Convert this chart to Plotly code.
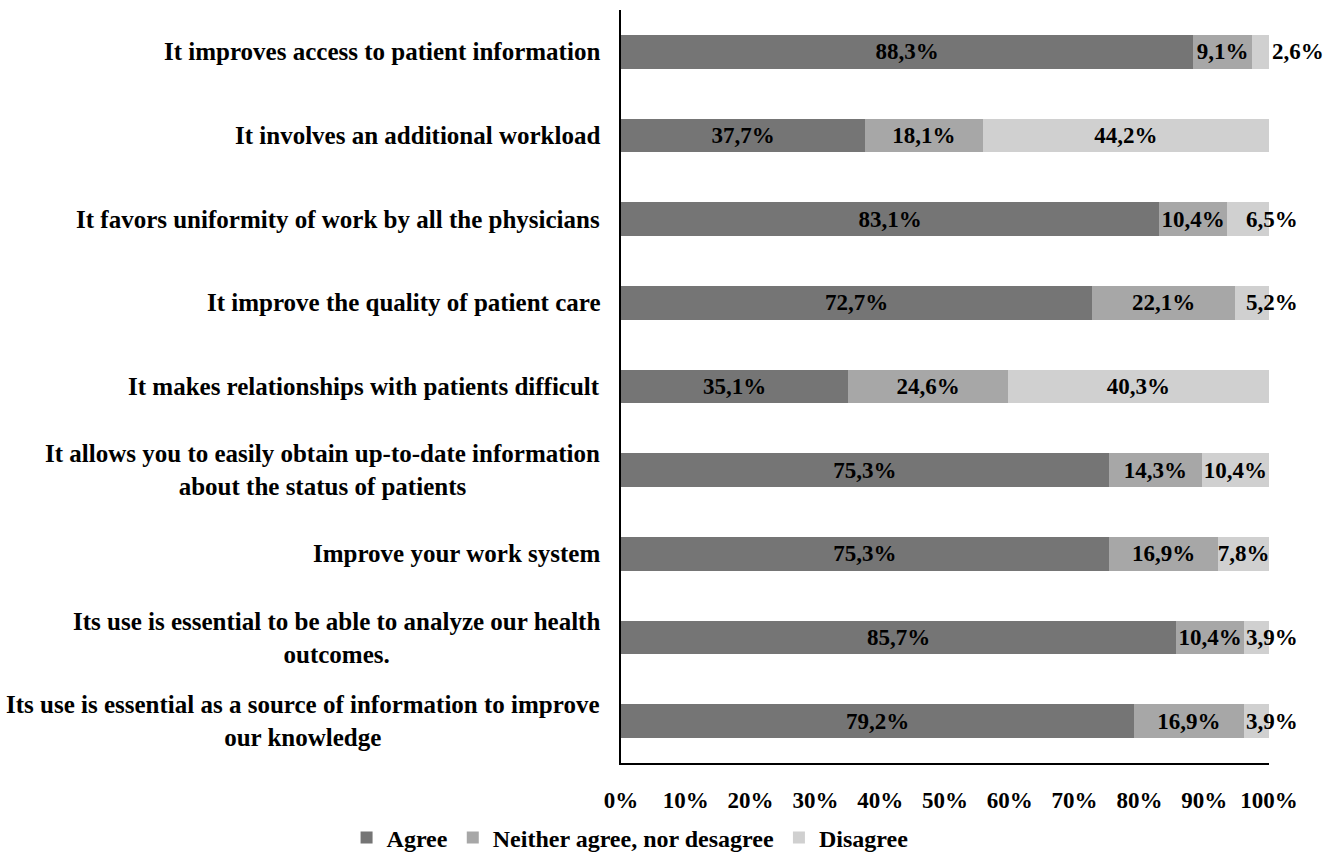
import plotly.graph_objects as go

# Survey statements (top to bottom)
categories = [
    "It improves access to patient information",
    "It involves an additional workload",
    "It favors uniformity of work by all the physicians",
    "It improve the quality of patient care",
    "It makes relationships with patients difficult",
    "It allows you to easily obtain up-to-date information<br>about the status of patients",
    "Improve your work system",
    "Its use is essential to be able to analyze our health<br>outcomes.",
    "Its use is essential as a source of information to improve<br>our knowledge",
]

agree = [88.3, 37.7, 83.1, 72.7, 35.1, 75.3, 75.3, 85.7, 79.2]
neither = [9.1, 18.1, 10.4, 22.1, 24.6, 14.3, 16.9, 10.4, 16.9]
disagree = [2.6, 44.2, 6.5, 5.2, 40.3, 10.4, 7.8, 3.9, 3.9]

x_ticks = [0, 10, 20, 30, 40, 50, 60, 70, 80, 90, 100]

series = [
    ("Agree", agree, "#757575"),
    ("Neither agree, nor desagree", neither, "#a7a7a7"),
    ("Disagree", disagree, "#d0d0d0"),
]

FONT = "Liberation Serif"
VAL_FONT = dict(family=FONT, size=23, color="black", weight="bold")
CAT_FONT = dict(family=FONT, size=25, color="black", weight="bold")
LEG_FONT = dict(family=FONT, size=24, color="black", weight="bold")
TICK_FONT = dict(family=FONT, size=23, color="black", weight="bold")


def fmt(v):
    return f"{v:.1f}".replace(".", ",") + "%"


fig = go.Figure()
for name, vals, color in series:
    texts = [fmt(v) for v in vals]
    positions = ["inside"] * len(vals)
    if name == "Disagree":
        for i, v in enumerate(vals):
            if v < 3:
                # thinnest segment: label just past the bar end
                positions[i] = "outside"
            elif v < 7:
                # narrow segment: labelled separately at the bar end
                texts[i] = ""
    fig.add_trace(go.Bar(
        name=name,
        y=categories,
        x=vals,
        orientation="h",
        marker=dict(color=color, line=dict(width=0)),
        text=texts,
        textposition=positions,
        insidetextanchor="middle",
        textangle=0,
        insidetextfont=VAL_FONT,
        outsidetextfont=VAL_FONT,
        cliponaxis=False,
        hoverinfo="skip",
    ))

# Labels for narrow "Disagree" segments, centred on the end of the stack
for cat, a, n, d in zip(categories, agree, neither, disagree):
    if 3 <= d < 7:
        fig.add_annotation(
            x=round(a + n + d, 6), xref="x", xanchor="center", xshift=3,
            y=cat, yref="y", yanchor="middle",
            text=fmt(d), showarrow=False,
            font=VAL_FONT,
        )

# Category labels: right-aligned block, centred lines
for cat in categories:
    fig.add_annotation(
        x=0, xref="paper", xanchor="right", xshift=-19,
        y=cat, yref="y", yanchor="middle",
        text=cat, showarrow=False, align="center",
        font=CAT_FONT,
    )

fig.update_layout(
    barmode="stack",
    bargap=0.6,
    width=1325,
    height=852,
    margin=dict(l=621, r=56, t=10, b=89, autoexpand=False),
    paper_bgcolor="white",
    plot_bgcolor="white",
    font=VAL_FONT,
    uniformtext=dict(minsize=23, mode="show"),
    showlegend=True,
    legend=dict(
        orientation="h",
        x=0.014, xanchor="center",
        y=-0.0996, yanchor="middle",
        font=LEG_FONT,
        traceorder="normal",
    ),
    xaxis=dict(
        range=[0, 100],
        tickvals=x_ticks,
        ticktext=[f"{t}%" for t in x_ticks],
        showgrid=False,
        zeroline=False,
        showline=True,
        linecolor="black",
        linewidth=2,
        ticks="",
        ticklabelstandoff=15,
        tickfont=TICK_FONT,
        automargin=False,
        fixedrange=True,
    ),
    yaxis=dict(
        categoryorder="array",
        categoryarray=categories,
        autorange="reversed",
        showticklabels=False,
        showgrid=False,
        zeroline=False,
        showline=True,
        linecolor="black",
        linewidth=2,
        ticks="",
        automargin=False,
        fixedrange=True,
    ),
)

fig.write_html("out.html")
